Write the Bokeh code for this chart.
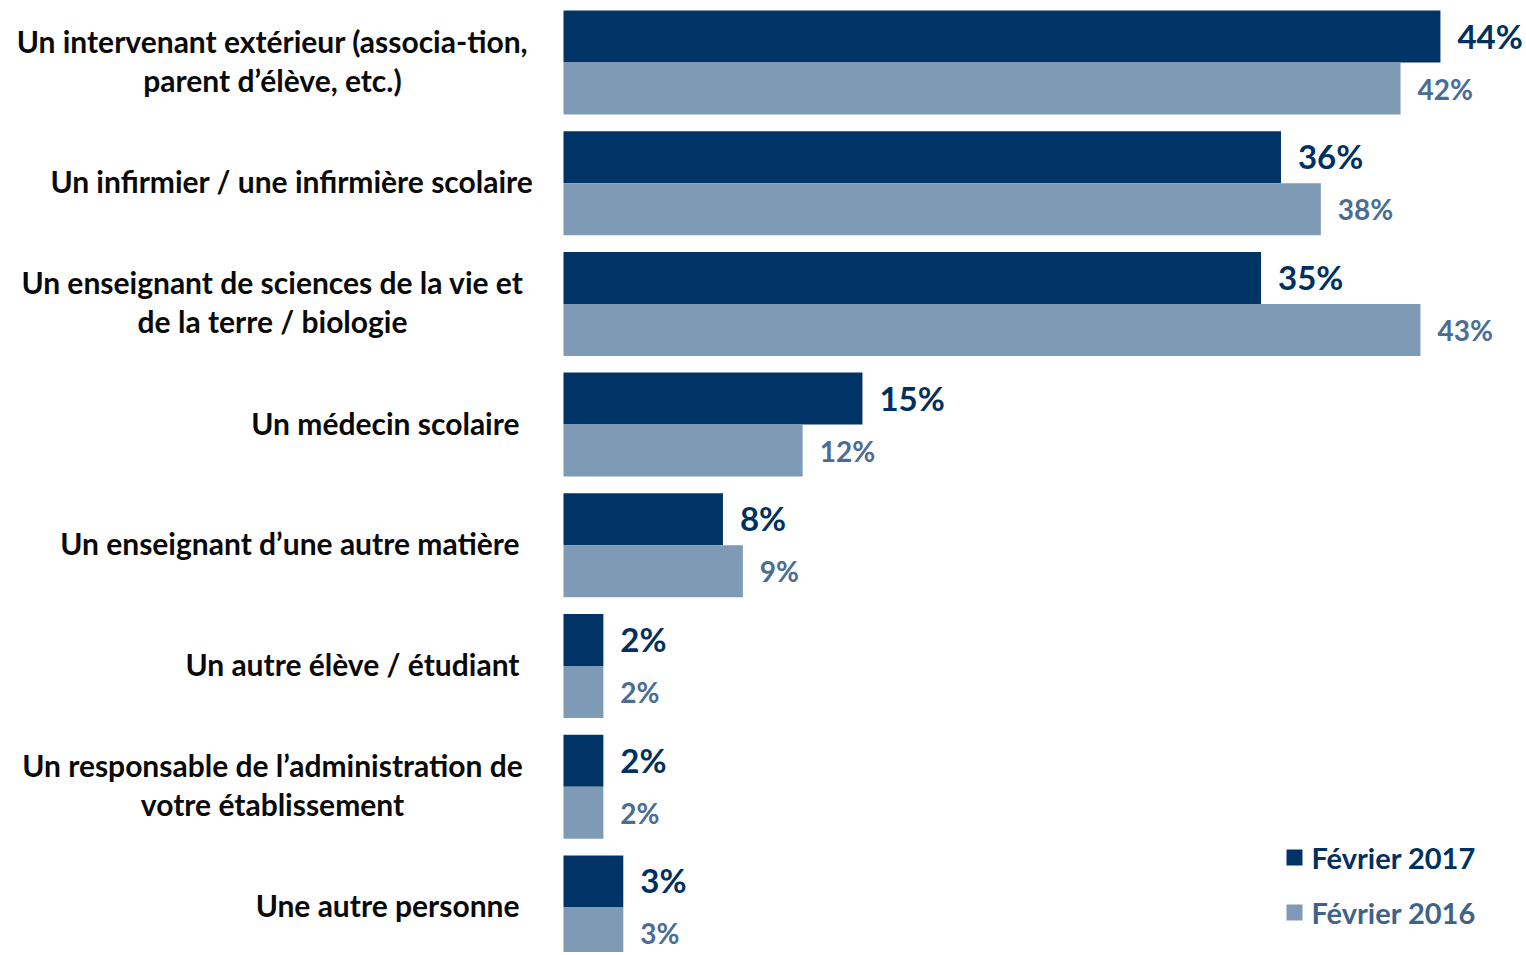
from bokeh.plotting import figure
from bokeh.models import Range1d
from bokeh.core.properties import value
from bokeh.embed import file_html
from bokeh.resources import INLINE

categories = [
    "Un intervenant extérieur (associa-tion,\nparent d’élève, etc.)",
    "Un infirmier / une infirmière scolaire",
    "Un enseignant de sciences de la vie et\nde la terre / biologie",
    "Un médecin scolaire",
    "Un enseignant d’une autre matière",
    "Un autre élève / étudiant",
    "Un responsable de l’administration de\nvotre établissement",
    "Une autre personne",
]
series_names = ["Février 2017", "Février 2016"]
values_2017 = [44, 36, 35, 15, 8, 2, 2, 3]
values_2016 = [42, 38, 43, 12, 9, 2, 2, 3]

DARK = "#003466"
LIGHT = "#7f9ab4"
DARK_TXT = "#00305f"
LIGHT_TXT = "#4a6d95"
FONT = "Lato"

W, H = 1524, 952
K = 19.93          # px per percent
X0 = 563           # screen x of zero
P = 120.7          # px per category group
BAR_PX = 52.0
G0 = 62            # screen y of first group centre


def sx(px):
    return (px - X0) / K


def sy(py):
    return (py - G0) / P


p = figure(width=W, height=H, output_backend="svg", toolbar_location=None,
           x_range=Range1d(sx(0), sx(W)), y_range=Range1d(sy(H), sy(0)),
           min_border=0, min_border_left=0, min_border_right=0,
           min_border_top=0, min_border_bottom=0)
p.axis.visible = False
p.xgrid.visible = False
p.ygrid.visible = False
p.outline_line_color = None
p.background_fill_color = "white"
p.border_fill_color = "white"

bh = BAR_PX / P
idx = list(range(len(categories)))
y_dark = [i - bh / 2 for i in idx]
y_light = [i + bh / 2 for i in idx]

p.hbar(y=y_dark, left=0, right=values_2017, height=bh, fill_color=DARK, line_color=None)
p.hbar(y=y_light, left=0, right=values_2016, height=bh, fill_color=LIGHT, line_color=None)

off = 17 / K
up1 = 1 / P
p.text(x=[v + off for v in values_2017], y=[y - up1 for y in y_dark],
       text=[f"{v}%" for v in values_2017],
       text_font=value(FONT), text_font_style="bold", text_font_size="33px",
       text_color=DARK_TXT, text_align="left", text_baseline="middle")
p.text(x=[v + off for v in values_2016], y=y_light, text=[f"{v}%" for v in values_2016],
       text_font=value(FONT), text_font_style="bold", text_font_size="28px",
       text_color=LIGHT_TXT, text_align="left", text_baseline="middle")

# category labels
lx, ly, lt, la = [], [], [], []
line_gap = 39 / P
shift = -2 / P
for i, cat in enumerate(categories):
    lines = cat.split("\n")
    if len(lines) > 1:
        n = len(lines)
        for j, ln in enumerate(lines):
            lx.append(sx(272))
            ly.append(i + shift + (j - (n - 1) / 2) * line_gap)
            lt.append(ln)
            la.append("center")
    else:
        right = 533 if i == 1 else 519
        lx.append(sx(right))
        ly.append(i + shift)
        lt.append(cat)
        la.append("right")
p.text(x=lx, y=ly, text=lt, text_align=la,
       text_font=value(FONT), text_font_style="bold", text_font_size="30px",
       text_color="#0a0a0a", text_baseline="middle")

# legend
leg_y = [sy(857), sy(912)]
p.scatter(x=[sx(1294)] * 2, y=leg_y, marker="square", size=16,
          fill_color=[DARK, LIGHT], line_color=None)
p.text(x=[sx(1311)] * 2, y=leg_y, text=series_names,
       text_font=value(FONT), text_font_style="bold", text_font_size="29px",
       text_color=[DARK_TXT, "#3f628b"], text_align="left", text_baseline="middle")

open("out.html", "w").write(file_html(p, INLINE))
